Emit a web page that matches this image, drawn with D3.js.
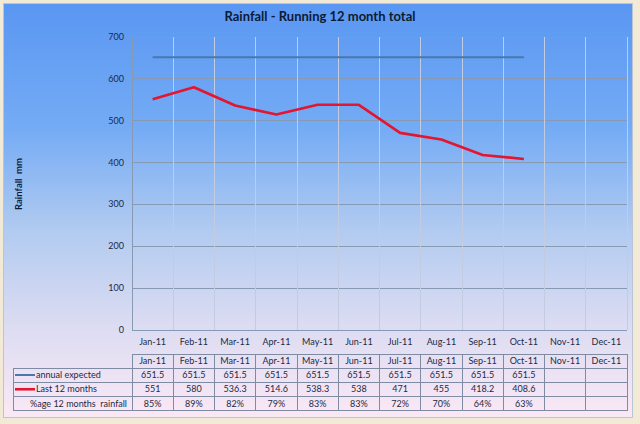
<!DOCTYPE html>
<html><head><meta charset="utf-8">
<script src="https://cdn.jsdelivr.net/npm/d3@7/dist/d3.min.js"></script>
<style>html,body{margin:0;padding:0;background:#f2ead6;}svg{display:block;}</style>
</head><body>
<script>
const months = ["Jan-11","Feb-11","Mar-11","Apr-11","May-11","Jun-11","Jul-11","Aug-11","Sep-11","Oct-11","Nov-11","Dec-11"];
const expected = [651.5,651.5,651.5,651.5,651.5,651.5,651.5,651.5,651.5,651.5,null,null];
const last12 = [551,580,536.3,514.6,538.3,538,471,455,418.2,408.6,null,null];
const pctLabels = ["85%","89%","82%","79%","83%","83%","72%","70%","64%","63%","",""];
const yTicks = [0,100,200,300,400,500,600,700];
const seriesNames = ["annual expected","Last 12 months","%age 12 months  rainfall"];

const W=640,H=424, font="Lato, 'Open Sans', sans-serif", txt="#1c2a44";
const svg=d3.select("body").append("svg").attr("width",W).attr("height",H);
const defs=svg.append("defs");
const g=defs.append("linearGradient").attr("id","bg").attr("x1",0).attr("y1",0).attr("x2",0).attr("y2",1);
g.append("stop").attr("offset","0%").attr("stop-color","#5a97f2");
g.append("stop").attr("offset","30%").attr("stop-color","#74abf5");
g.append("stop").attr("offset","55%").attr("stop-color","#b2cbf0");
g.append("stop").attr("offset","78%").attr("stop-color","#dcdcf2");
g.append("stop").attr("offset","100%").attr("stop-color","#fbe8f5");

svg.append("rect").attr("x",3.5).attr("y",3.5).attr("width",629).attr("height",414)
  .attr("fill","url(#bg)").attr("stroke","#b9c4d4").attr("stroke-width",1);

const L=132,R=627,T=37,B=330;
const x=d3.scaleBand().domain(months).range([L,R]);
const y=d3.scaleLinear().domain([0,700]).range([B,T]);

// horizontal grid
svg.append("g").selectAll("line").data(yTicks).join("line")
  .attr("x1",L).attr("x2",R).attr("y1",d=>y(d)).attr("y2",d=>y(d))
  .attr("stroke","#8799b3").attr("stroke-width",1).attr("shape-rendering","crispEdges");
// vertical grid
svg.append("g").selectAll("line").data(months).join("line")
  .attr("x1",d=>x(d)).attr("x2",d=>x(d)).attr("y1",T).attr("y2",B)
  .attr("stroke","#c2cbe0").attr("stroke-width",1).attr("shape-rendering","crispEdges");
svg.append("line").attr("x1",R).attr("x2",R).attr("y1",T).attr("y2",B)
  .attr("stroke","#c2cbe0").attr("shape-rendering","crispEdges");
svg.append("line").attr("x1",L).attr("x2",L).attr("y1",T).attr("y2",B)
  .attr("stroke","#8799b3").attr("shape-rendering","crispEdges");

// y tick labels
svg.append("g").selectAll("text").data(yTicks).join("text")
  .attr("x",L-8).attr("y",d=>y(d)+3).attr("text-anchor","end")
  .attr("font-family",font).attr("font-size",9).attr("fill",txt).text(d=>d);

// x labels
svg.append("g").selectAll("text").data(months).join("text")
  .attr("x",d=>x(d)+x.bandwidth()/2).attr("y",345).attr("text-anchor","middle")
  .attr("font-family",font).attr("font-size",9).attr("fill",txt).text(d=>d);

// lines
const cx=(d,i)=>x(months[i])+x.bandwidth()/2;
const line=d3.line().defined(d=>d!=null).x(cx).y(d=>y(d));
svg.append("path").datum(expected).attr("d",line).attr("fill","none")
  .attr("stroke","#4a78ad").attr("stroke-width",2);
svg.append("path").datum(last12).attr("d",line).attr("fill","none")
  .attr("stroke","#e4152f").attr("stroke-width",2.6).attr("stroke-linejoin","round");

// title
svg.append("text").attr("x",320).attr("y",21).attr("text-anchor","middle")
  .attr("font-family",font).attr("font-weight","bold").attr("font-size",13).attr("fill","#0d1a33")
  .text("Rainfall - Running 12 month total");
// y axis title
svg.append("text").attr("transform","translate(22,184) rotate(-90)").attr("text-anchor","middle")
  .attr("font-family",font).attr("font-weight","bold").attr("font-size",9.5).attr("fill","#0d1a33")
  .attr("xml:space","preserve").text("Rainfall  mm");

// data table
const tT=354, rowH=[14,14,14.5,14];
const rowsY=[tT]; rowH.forEach(h=>rowsY.push(rowsY[rowsY.length-1]+h));
const tab=svg.append("g").attr("stroke","#7f8aa3").attr("stroke-width",1).attr("shape-rendering","crispEdges");
const LL=13;
tab.append("line").attr("x1",L).attr("x2",R).attr("y1",rowsY[0]).attr("y2",rowsY[0]);
for(let r=1;r<rowsY.length;r++){
  tab.append("line").attr("x1",LL).attr("x2",R).attr("y1",rowsY[r]).attr("y2",rowsY[r]);
}
tab.append("line").attr("x1",LL).attr("x2",LL).attr("y1",rowsY[1]).attr("y2",rowsY[4]);
tab.selectAll(".v").data(months).join("line")
  .attr("x1",d=>x(d)).attr("x2",d=>x(d)).attr("y1",rowsY[0]).attr("y2",rowsY[4]);
tab.append("line").attr("x1",R).attr("x2",R).attr("y1",rowsY[0]).attr("y2",rowsY[4]);

const rowMid=r=>(rowsY[r]+rowsY[r+1])/2+3;
svg.append("g").selectAll("text").data(months).join("text")
  .attr("x",d=>x(d)+x.bandwidth()/2).attr("y",rowMid(0)).attr("text-anchor","middle")
  .attr("font-family",font).attr("font-size",9).attr("fill",txt).text(d=>d);
const rowsData=[expected.map(v=>v==null?"":v), last12.map(v=>v==null?"":v), pctLabels];
rowsData.forEach((arr,ri)=>{
  svg.append("g").selectAll("text").data(arr).join("text")
    .attr("x",(d,i)=>x(months[i])+x.bandwidth()/2).attr("y",rowMid(ri+1)).attr("text-anchor","middle")
    .attr("font-family",font).attr("font-size",9).attr("fill",txt).text(d=>d);
});
// legend keys
svg.append("line").attr("x1",15).attr("x2",35).attr("y1",rowMid(1)-3).attr("y2",rowMid(1)-3)
  .attr("stroke","#4a78ad").attr("stroke-width",2);
svg.append("line").attr("x1",15).attr("x2",35).attr("y1",rowMid(2)-3).attr("y2",rowMid(2)-3)
  .attr("stroke","#e4152f").attr("stroke-width",2.6);
svg.append("text").attr("x",36).attr("y",rowMid(1)).attr("font-family",font).attr("font-size",9).attr("fill",txt).text(seriesNames[0]);
svg.append("text").attr("x",36).attr("y",rowMid(2)).attr("font-family",font).attr("font-size",9).attr("fill",txt).text(seriesNames[1]);
svg.append("text").attr("x",127).attr("y",rowMid(3)).attr("text-anchor","end").attr("font-family",font).attr("font-size",9).attr("fill",txt).attr("xml:space","preserve").text(seriesNames[2]);
</script>
</body></html>
